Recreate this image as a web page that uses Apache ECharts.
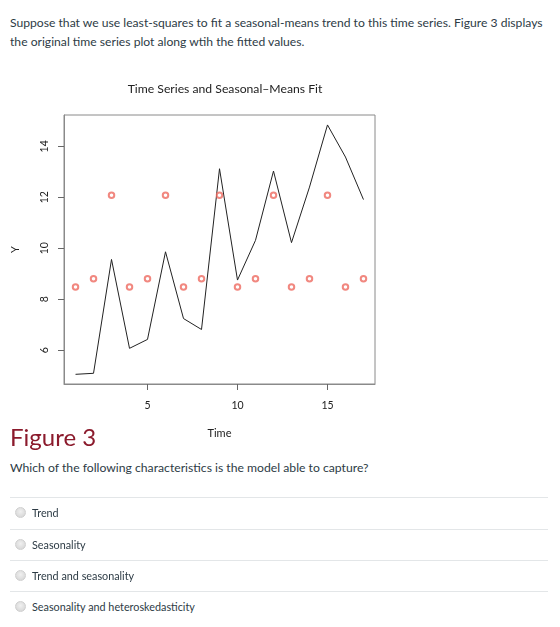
<!DOCTYPE html>
<html>
<head>
<meta charset="utf-8">
<script src="https://cdn.jsdelivr.net/npm/echarts@6/dist/echarts.min.js"></script>
<style>
  body { margin: 0; width: 560px; height: 627px; background: #fff; font-family: Lato, "Open Sans", sans-serif; color: #2d3b45; position: relative; overflow: hidden; }
  .intro { position: absolute; left: 10px; top: 13px; white-space: nowrap; font-size: 12.15px; line-height: 19px; }
  .fig { position: absolute; left: 10px; top: 422px; font-size: 24px; color: #8b1a2c; }
  .ask { position: absolute; left: 10px; top: 460px; font-size: 12.2px; }
  .opt { position: absolute; left: 10px; width: 538px; height: 31px; border-top: 1px solid #e3e6e8; font-size: 10.8px; }
  .opt span.dot { position: absolute; left: 5px; top: 9px; width: 11px; height: 11px; border-radius: 50%; background: radial-gradient(circle at 50% 40%, #f0f0f0, #d2d2d2); border: 1px solid #cfcfcf; box-sizing: border-box; }
  .opt span.lab { position: absolute; left: 22px; top: 8px; }
  #main { position: absolute; left: 0; top: 60px; width: 400px; height: 385px; }
</style>
</head>
<body>
<div class="intro">Suppose that we use least-squares to fit a seasonal-means trend to this time series. Figure 3 displays<br>the original time series plot along wtih the fitted values.</div>
<div id="main"></div>
<div class="fig">Figure 3</div>
<div class="ask">Which of the following characteristics is the model able to capture?</div>
<div class="opt" style="top:497px"><span class="dot"></span><span class="lab">Trend</span></div>
<div class="opt" style="top:529px"><span class="dot"></span><span class="lab">Seasonality</span></div>
<div class="opt" style="top:560px"><span class="dot"></span><span class="lab">Trend and seasonality</span></div>
<div class="opt" style="top:591px"><span class="dot"></span><span class="lab">Seasonality and heteroskedasticity</span></div>
<script>
// time index and observed series
var time = [1, 2, 3, 4, 5, 6, 7, 8, 9, 10, 11, 12, 13, 14, 15, 16, 17];
var observed = [5.05, 5.09, 9.56, 6.07, 6.42, 9.86, 7.24, 6.81, 13.12, 8.75, 10.31, 13.03, 10.22, 12.40, 14.84, 13.58, 11.91];
// seasonal-means fitted values
var fitted = [8.48, 8.80, 12.08, 8.48, 8.80, 12.08, 8.48, 8.80, 12.08, 8.48, 8.80, 12.08, 8.48, 8.80, 12.08, 8.48, 8.80];
var xTicks = [5, 10, 15];
var yTicks = [6, 8, 10, 12, 14];

var myChart = echarts.init(document.getElementById('main'));

function pairs(ys) {
    return time.map(function (t, i) { return [t, ys[i]]; });
}

var option = {
    animation: false,
    title: {
        text: 'Time Series and Seasonal\u2013Means Fit',
        left: 220,
        top: 18,
        textAlign: 'center',
        textStyle: { fontFamily: 'Lato', fontSize: 12.2, fontWeight: 'normal', color: '#222' }
    },
    grid: {
        left: 64, top: 55, width: 311, height: 269,
        outerBoundsMode: 'none',
        containLabel: false,
        show: true, borderColor: '#8a8a8a', borderWidth: 1
    },
    xAxis: {
        type: 'value',
        min: 0.36, max: 17.64,
        name: 'Time',
        nameLocation: 'middle',
        nameGap: 44,
        nameTextStyle: { fontFamily: 'Lato', fontSize: 11, color: '#222' },
        axisLine: { show: true, lineStyle: { color: '#8a8a8a' } },
        axisTick: { show: true, length: 6, customValues: xTicks, lineStyle: { color: '#666' } },
        axisLabel: { customValues: xTicks, margin: 16, fontFamily: 'Lato', fontSize: 10.5, color: '#222' },
        splitLine: { show: false }
    },
    yAxis: {
        type: 'value',
        min: 4.67, max: 15.23,
        name: 'Y',
        nameLocation: 'middle',
        nameRotate: 90,
        nameGap: 43,
        nameTextStyle: { fontFamily: 'Lato', fontSize: 11, color: '#222' },
        axisLine: { show: true, lineStyle: { color: '#8a8a8a' } },
        axisTick: { show: true, length: 6, customValues: yTicks, lineStyle: { color: '#666' } },
        axisLabel: { customValues: yTicks, rotate: 90, margin: 14, fontFamily: 'Lato', fontSize: 10.5, color: '#222' },
        splitLine: { show: false }
    },
    series: [{
        type: 'line',
        data: pairs(observed),
        showSymbol: false,
        lineStyle: { color: '#222', width: 1 },
        z: 2
    }, {
        type: 'scatter',
        data: pairs(fitted),
        symbol: 'emptyCircle',
        symbolSize: 5.5,
        itemStyle: { color: '#ee6a60', borderColor: '#ee6a60', borderWidth: 0.8 },
        z: 3
    }]
};
myChart.setOption(option);
</script>
</body>
</html>
